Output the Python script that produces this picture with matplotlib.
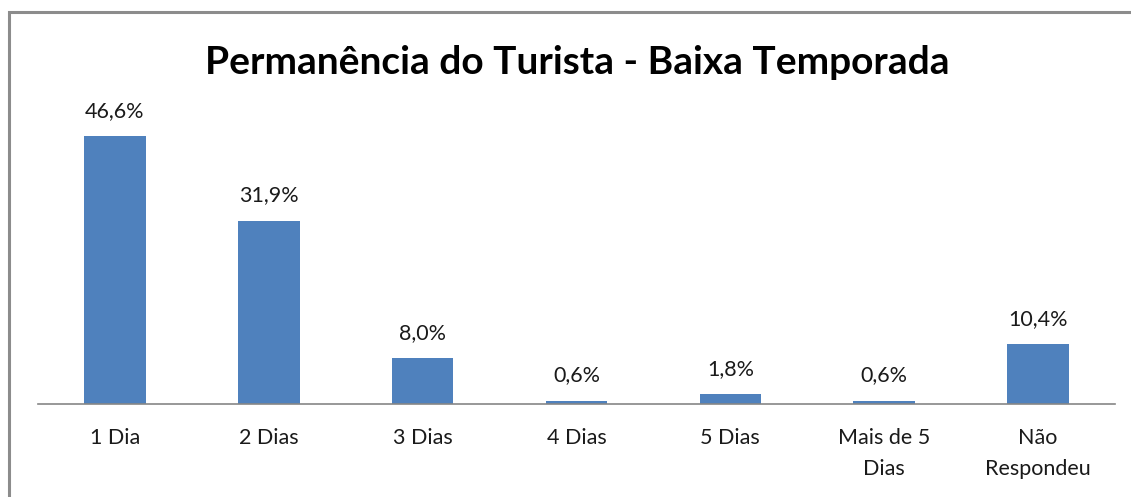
import matplotlib.pyplot as plt
from matplotlib.patches import Rectangle

categorias = ['1 Dia', '2 Dias', '3 Dias', '4 Dias', '5 Dias', 'Mais de 5\nDias', 'Não\nRespondeu']
percentuais = [46.6, 31.9, 8.0, 0.6, 1.8, 0.6, 10.4]

plt.rcParams['font.family'] = ['Lato', 'DejaVu Sans']

fig = plt.figure(figsize=(11.31, 4.97), dpi=100)

# moldura do gráfico
fig.patches.append(Rectangle((9 / 1131, -0.1), 1.2, (497 - 12) / 497 + 0.1,
                             transform=fig.transFigure, fill=False,
                             edgecolor='#8c8c8c', linewidth=2.2))

ax = fig.add_axes([38 / 1131, 93 / 497, 1077 / 1131, 287.5 / 497])
x = range(len(categorias))
barras = ax.bar(x, percentuais, width=0.4, color='#4F81BD')

for b, v in zip(barras, percentuais):
    ax.annotate(f'{v:.1f}%'.replace('.', ','),
                (b.get_x() + b.get_width() / 2, v),
                xytext=(0, 25), textcoords='offset pixels',
                ha='center', va='center', fontsize=15.5, color='#1a1a1a')

ax.set_xlim(-0.5, len(categorias) - 0.5)
ax.set_ylim(0, 50)
ax.set_xticks(list(x))
ax.set_xticklabels(categorias, fontsize=15.5, color='#1a1a1a', linespacing=1.65)
ax.tick_params(axis='x', length=0, pad=17.5)
ax.set_yticks([])
for s in ['top', 'right', 'left']:
    ax.spines[s].set_visible(False)
ax.spines['bottom'].set_color('#868686')
ax.spines['bottom'].set_linewidth(1.2)

fig.text(577 / 1131, 1 - 62 / 497, 'Permanência do Turista - Baixa Temporada',
         ha='center', va='center', fontsize=28, fontweight='bold', color='black')

fig.savefig('out.png', dpi=100)
